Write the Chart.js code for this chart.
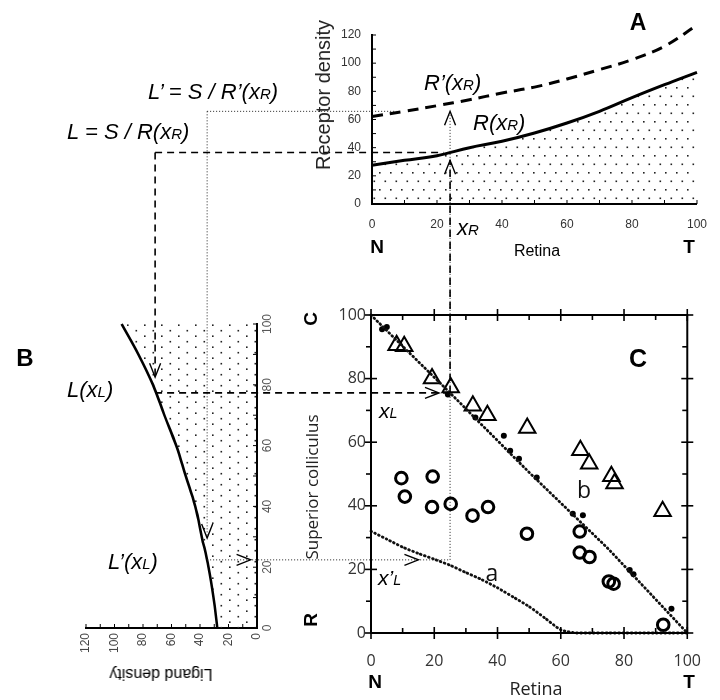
<!DOCTYPE html>
<html><head><meta charset="utf-8">
<script src="https://cdn.jsdelivr.net/npm/chart.js@4/dist/chart.umd.min.js"></script>
<style>
html,body{margin:0;padding:0;background:#fff;}
#page{position:relative;width:720px;height:700px;overflow:hidden;background:#fff;}
canvas{position:absolute;}
.t{position:absolute;white-space:nowrap;color:#000;line-height:1;font-family:"Liberation Sans",Arial,sans-serif;}
.it{font-style:italic;font-size:22px;}
.s{font-size:0.68em;}
.bd{font-weight:bold;}
.os{font-family:"Open Sans",sans-serif;}
</style></head>
<body><div id="page">
<canvas id="ca" width="420" height="260" style="left:300px;top:0px"></canvas>
<div id="bwrap" style="position:absolute;left:40px;top:280px;width:400px;height:240px;transform-origin:0 0;transform:translate(0px,400px) rotate(-90deg);">
<canvas id="cb" width="400" height="240" style="left:0;top:0"></canvas></div>
<canvas id="cc" width="430" height="400" style="left:290px;top:300px"></canvas>
<canvas id="ov" width="720" height="700" style="left:0;top:0;pointer-events:none"></canvas>

<div class="t it" style="left:148px;top:92px;transform:translate(0,-50%)">L’ = S / R’(<i>x</i><span class="s">R</span>)</div>
<div class="t it" style="left:67px;top:132px;transform:translate(0,-50%)">L = S / R(<i>x</i><span class="s">R</span>)</div>
<div class="t it" style="left:424px;top:83px;transform:translate(0,-50%)">R’(<i>x</i><span class="s">R</span>)</div>
<div class="t it" style="left:473px;top:123px;transform:translate(0,-50%)">R(<i>x</i><span class="s">R</span>)</div>
<div class="t it" style="left:457px;top:228px;transform:translate(0,-50%)">x<span class="s">R</span></div>
<div class="t bd" style="left:377px;top:246px;font-size:19px;transform:translate(-50%,-50%)">N</div>
<div class="t bd" style="left:689px;top:246px;font-size:19px;transform:translate(-50%,-50%)">T</div>
<div class="t" style="left:537px;top:251px;font-size:16px;transform:translate(-50%,-50%)">Retina</div>
<div class="t bd" style="left:638px;top:22px;font-size:23px;transform:translate(-50%,-50%)">A</div>
<div class="t" style="left:323px;top:95px;font-size:20px;color:#222;transform:translate(-50%,-50%) rotate(-90deg)">Receptor density</div>

<div class="t bd" style="left:25px;top:358px;font-size:24px;transform:translate(-50%,-50%)">B</div>
<div class="t it" style="left:67px;top:390px;transform:translate(0,-50%)">L(<i>x</i><span class="s">L</span>)</div>
<div class="t it" style="left:108px;top:562px;transform:translate(0,-50%)">L’(<i>x</i><span class="s">L</span>)</div>
<div class="t" style="left:161px;top:674px;font-size:16px;transform:translate(-50%,-50%) rotate(180deg)">Ligand density</div>

<div class="t os" style="left:311px;top:487px;font-size:17px;color:#222;transform:translate(-50%,-50%) rotate(-90deg)">Superior colliculus</div>
<div class="t os" style="left:536px;top:688px;font-size:18px;color:#222;transform:translate(-50%,-50%)">Retina</div>
<div class="t bd" style="left:375px;top:681px;font-size:19px;transform:translate(-50%,-50%)">N</div>
<div class="t bd" style="left:689px;top:681px;font-size:19px;transform:translate(-50%,-50%)">T</div>
<div class="t bd" style="left:310px;top:319px;font-size:19px;transform:translate(-50%,-50%) rotate(-90deg)">C</div>
<div class="t bd" style="left:310px;top:620px;font-size:19px;transform:translate(-50%,-50%) rotate(-90deg)">R</div>
<div class="t bd" style="left:638px;top:358px;font-size:25px;transform:translate(-50%,-50%)">C</div>
<div class="t it" style="left:379px;top:410px;font-size:21px;transform:translate(0,-50%)">x<span class="s">L</span></div>
<div class="t it" style="left:378px;top:577px;font-size:21px;transform:translate(0,-50%)">x’<span class="s">L</span></div>
<div class="t os" style="left:492px;top:572px;font-size:23px;color:#111;transform:translate(-50%,-50%)">a</div>
<div class="t os" style="left:584px;top:489px;font-size:23px;color:#111;transform:translate(-50%,-50%)">b</div>
</div>
<script>
// ---------- Data ----------
// Panel A: receptor density along retina
const retinaX = [0,10,20,30,40,50,60,70,80,90,100];
const receptorR = [27.5,31,34.3,40,44.5,50.4,57.5,65.8,75.5,84.7,93.5];
const receptorRp = [62.2,65.8,69.8,74,78.8,83,88.8,95.4,102.5,112,127];
// Panel B: ligand density along superior colliculus
const scPos = [0,10,20,30,40,50,60,70,80,90,100];
const ligandL = [27.9,30.5,34,38.7,43.4,50,56.7,65,73,83.2,95];
// Panel C: retinotopic map
const lineAX = [0,5,10,15,20,25,30,35,40,45,50,55,60,65,70,75,80,85,90,95,100];
const lineAY = [32,29.5,27,25,23.2,21.3,19,16.8,14.2,11.3,8.3,4.7,1,0,0,0,0,0,0,0,0];
const lineBX = [0,25,50,75,100];
const lineBY = [100,75.5,50.5,26.5,0];
const dotX = [3.5,5,24.3,33,42,44,46.8,52.4,63.8,67,81.8,83,95];
const dotY = [95.5,96.2,75,67.8,62,57.3,54.8,48.9,37.5,37,19.8,18.5,7.6];
const triX = [8.1,10.5,19.3,25.2,32.2,36.8,49.4,66.2,69,76,77,92.2];
const triY = [90.5,90.2,80,77.2,71.5,68.5,64.5,57.5,53.2,49.3,47,38.3];
const circX = [9.6,10.7,19.5,19.3,25.2,32.1,37,49.3,66,66,69.1,75.2,76.7,92.4];
const circY = [48.7,42.9,49.2,39.6,40.6,36.9,39.6,31.2,31.9,25.3,23.9,16.2,15.5,2.6];
// Construction lines (values in data units)
const xR = 25, levelR = 36.6, levelRp = 65.8;
const xL = 75.5, xLp = 23, ligL = 71.5, ligLp = 35;

const pts = (xs, ys) => xs.map((x, i) => ({x, y: ys[i]}));

function stipple(){
  const c = document.createElement('canvas'); c.width = 11; c.height = 17;
  const g = c.getContext('2d'); g.fillStyle = '#222';
  g.fillRect(2,2,1.6,1.6); g.fillRect(7.5,10.5,1.6,1.6);
  return g.createPattern(c, 'repeat');
}

const frameTicks = {
  id: 'frameTicks',
  afterDatasetsDraw(chart, args, o) {
    const {ctx, chartArea: a, scales} = chart;
    ctx.save(); ctx.strokeStyle = '#000'; ctx.lineWidth = o.lw || 1.5;
    if (o.frame) ctx.strokeRect(a.left, a.top, a.right - a.left, a.bottom - a.top);
    ctx.lineWidth = o.tw || 1.3;
    for (const s of o.sides) {
      const sc = scales[s.axis];
      for (let v = s.min; v <= s.max + 1e-9; v += s.step) {
        const major = s.maj && Math.abs(v % s.maj) < 1e-9;
        const inn = major ? s.majIn : s.inn, out = major ? s.majOut : s.out;
        const p = sc.getPixelForValue(v);
        ctx.beginPath();
        if (s.side === 'left') { ctx.moveTo(a.left - out, p); ctx.lineTo(a.left + inn, p); }
        if (s.side === 'right') { ctx.moveTo(a.right + out, p); ctx.lineTo(a.right - inn, p); }
        if (s.side === 'bottom') { ctx.moveTo(p, a.bottom + out); ctx.lineTo(p, a.bottom - inn); }
        if (s.side === 'top') { ctx.moveTo(p, a.top - out); ctx.lineTo(p, a.top + inn); }
        ctx.stroke();
      }
    }
    ctx.restore();
  }
};
Chart.register(frameTicks);

const fontAB = {family: 'Liberation Sans', size: 12};
const base = {responsive: false, animation: false, events: [],
  plugins: {legend: {display: false}, tooltip: {enabled: false}}};

// ---------- Panel A ----------
const chartA = new Chart(document.getElementById('ca'), {
  type: 'scatter',
  data: {datasets: [
    {data: pts(retinaX, receptorR), showLine: true, borderColor: '#000', borderWidth: 3,
     pointRadius: 0, fill: 'origin', backgroundColor: stipple(), tension: 0.4, clip: false},
    {data: pts(retinaX, receptorRp), showLine: true, borderColor: '#000', borderWidth: 3,
     borderDash: [11, 7], pointRadius: 0, fill: false, tension: 0.4, clip: false}
  ]},
  options: {...base,
    layout: {padding: {left: 0, right: 22, top: 35, bottom: 0}},
    plugins: {...base.plugins, frameTicks: {frame: false, tw: 1, sides: [
      {side: 'left', axis: 'y', min: 0, max: 120, step: 10, inn: 4, out: 0},
      {side: 'bottom', axis: 'x', min: 0, max: 100, step: 10, inn: 4, out: 0}]}},
    scales: {
      x: {type: 'linear', min: 0, max: 100, grid: {display: false, drawTicks: false},
          border: {display: true, color: '#000', width: 2},
          ticks: {stepSize: 20, padding: 13, font: fontAB, color: '#333', maxRotation: 0},
          afterFit(s) { s.height = 56; }},
      y: {type: 'linear', min: 0, max: 120, grid: {display: false, drawTicks: false},
          border: {display: true, color: '#000', width: 2},
          ticks: {stepSize: 20, padding: 11, font: fontAB, color: '#333'},
          afterFit(s) { s.width = 72; }}
    }}
});

// ---------- Panel B (drawn upright, rotated by CSS) ----------
const chartB = new Chart(document.getElementById('cb'), {
  type: 'scatter',
  data: {datasets: [
    {data: pts(scPos, ligandL), showLine: true, borderColor: '#000', borderWidth: 2.6,
     pointRadius: 0, fill: 'origin', backgroundColor: stipple(), tension: 0.4, clip: false}
  ]},
  options: {...base,
    layout: {padding: {left: 0, right: 44, top: 46, bottom: 0}},
    plugins: {...base.plugins, frameTicks: {frame: false, tw: 1, sides: [
      {side: 'left', axis: 'y', min: 0, max: 120, step: 10, inn: 4, out: 0},
      {side: 'bottom', axis: 'x', min: 0, max: 100, step: 10, inn: 4, out: 0}]}},
    scales: {
      x: {type: 'linear', min: 0, max: 100, grid: {display: false, drawTicks: false},
          border: {display: true, color: '#000', width: 2},
          ticks: {stepSize: 20, padding: 3, font: fontAB, color: '#555', maxRotation: 0},
          afterFit(s) { s.height = 23; }},
      y: {type: 'linear', min: 0, max: 120, grid: {display: false, drawTicks: false},
          border: {display: true, color: '#000', width: 2},
          ticks: {stepSize: 20, padding: 5, font: fontAB, color: '#444'},
          afterFit(s) { s.width = 52; }}
    }}
});

// ---------- Panel C ----------
const fontC = {family: 'Open Sans', size: 16};
const chartC = new Chart(document.getElementById('cc'), {
  type: 'scatter',
  data: {datasets: [
    {data: pts(lineBX, lineBY), showLine: true, borderColor: '#111', borderWidth: 2.8,
     borderDash: [0.8, 3.4], borderCapStyle: 'round', pointRadius: 0, clip: false},
    {data: pts(lineAX, lineAY), showLine: true, borderColor: '#111', borderWidth: 2.8,
     borderDash: [0.8, 3.4], borderCapStyle: 'round', pointRadius: 0, tension: 0.2, clip: false},
    {data: pts(dotX, dotY), pointRadius: 3, pointBackgroundColor: '#000', pointBorderWidth: 0, clip: false},
    {data: pts(triX, triY), pointStyle: 'triangle', pointRadius: 9.5, pointBorderWidth: 2,
     pointBorderColor: '#000', pointBackgroundColor: 'rgba(0,0,0,0)', clip: false},
    {data: pts(circX, circY), pointStyle: 'circle', pointRadius: 5.8, pointBorderWidth: 3,
     pointBorderColor: '#000', pointBackgroundColor: 'rgba(0,0,0,0)', clip: false}
  ]},
  options: {...base,
    layout: {padding: {left: 0, right: 20, top: 15, bottom: 0}},
    plugins: {...base.plugins, frameTicks: {frame: true, lw: 2, tw: 1.6, sides: [
      {side: 'left', axis: 'y', min: 0, max: 100, step: 10, inn: 0, out: 5, maj: 20, majIn: 6, majOut: 6},
      {side: 'right', axis: 'y', min: 0, max: 100, step: 10, inn: 5, out: 0, maj: 20, majIn: 6, majOut: 6},
      {side: 'bottom', axis: 'x', min: 0, max: 100, step: 10, inn: 5, out: 0, maj: 20, majIn: 6, majOut: 6},
      {side: 'top', axis: 'x', min: 0, max: 100, step: 10, inn: 5, out: 0, maj: 20, majIn: 6, majOut: 6}]}},
    scales: {
      x: {type: 'linear', min: 0, max: 100, grid: {display: false, drawTicks: false},
          border: {display: false},
          ticks: {stepSize: 20, padding: 19, font: fontC, color: '#333', maxRotation: 0},
          afterFit(s) { s.height = 67; }},
      y: {type: 'linear', min: 0, max: 100, grid: {display: false, drawTicks: false},
          border: {display: false},
          ticks: {stepSize: 20, padding: 5, font: fontC, color: '#333'},
          afterFit(s) { s.width = 81; }}
    }}
});

// ---------- Construction lines across panels ----------
(function(){
  const g = document.getElementById('ov').getContext('2d');
  const ax = v => 300 + chartA.scales.x.getPixelForValue(v);
  const ay = v => chartA.scales.y.getPixelForValue(v);
  const bx = l => 40 + chartB.scales.y.getPixelForValue(l);
  const by = s => 680 - chartB.scales.x.getPixelForValue(s);
  const cx = v => 290 + chartC.scales.x.getPixelForValue(v);
  const cy = v => 300 + chartC.scales.y.getPixelForValue(v);
  function seg(x1, y1, x2, y2){ g.beginPath(); g.moveTo(x1, y1); g.lineTo(x2, y2); g.stroke(); }
  function arrow(x, y, dir){
    g.save(); g.setLineDash([]); g.lineWidth = 1.4; g.strokeStyle = '#000'; g.beginPath();
    const L = 14, W = 5.5;
    if (dir === 'down') { g.moveTo(x - W, y - L); g.lineTo(x, y); g.lineTo(x + W, y - L); }
    if (dir === 'up') { g.moveTo(x - W, y + L); g.lineTo(x, y); g.lineTo(x + W, y + L); }
    if (dir === 'right') { g.moveTo(x - L, y - W); g.lineTo(x, y); g.lineTo(x - L, y + W); }
    g.stroke(); g.restore();
  }
  const xc = cx(xR);
  // dotted (L')
  g.strokeStyle = '#222'; g.lineWidth = 1; g.setLineDash([1, 2]);
  seg(bx(ligLp), ay(levelRp), ax(7.5), ay(levelRp));
  seg(bx(ligLp), ay(levelRp), bx(ligLp), by(29.6));
  seg(bx(ligLp), cy(xLp), xc, cy(xLp));
  seg(xc, cy(xLp), xc, ay(levelRp));
  arrow(bx(ligLp), by(29.6), 'down');
  arrow(bx(4.5), cy(xLp), 'right');
  arrow(cx(15), cy(xLp), 'right');
  arrow(xc, ay(levelRp), 'up');
  // dashed (L)
  g.strokeStyle = '#000'; g.lineWidth = 1.6; g.setLineDash([7, 5]);
  seg(bx(ligL), ay(levelR), ax(22), ay(levelR));
  seg(bx(ligL), ay(levelR), bx(ligL), by(82.5));
  seg(bx(ligL), cy(xL), xc, cy(xL));
  seg(xc, cy(xL), xc, ay(31));
  arrow(bx(ligL), by(82.5), 'down');
  arrow(cx(21.5), cy(xL), 'right');
  arrow(xc, ay(31), 'up');
})();
</script>
</body></html>
